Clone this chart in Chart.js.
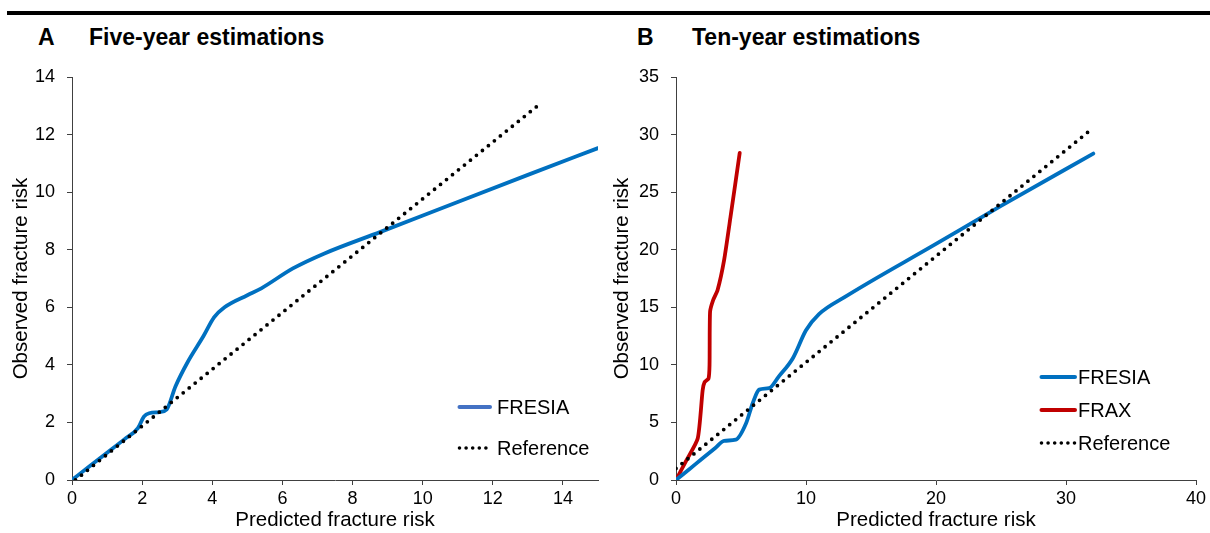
<!DOCTYPE html>
<html>
<head>
<meta charset="utf-8">
<script src="https://cdn.jsdelivr.net/npm/chart.js@4.4.1/dist/chart.umd.min.js"></script>
<style>
  html, body { margin: 0; padding: 0; background: #fff; }
  body { width: 1210px; height: 533px; position: relative; overflow: hidden;
         font-family: "Liberation Sans", Arial, sans-serif; }
  .rule { position: absolute; left: 7px; top: 11px; width: 1203px; height: 4px; background: #000; }
  .panel { position: absolute; top: 23px; font-weight: bold; font-size: 23px; line-height: 28px; color: #000; }
  .wrap { position: absolute; top: 0; height: 533px; }
</style>
</head>
<body>
<div class="rule"></div>
<div class="panel" style="left:38px">A</div>
<div class="panel" style="left:89px">Five-year estimations</div>
<div class="panel" style="left:637px">B</div>
<div class="panel" style="left:692px">Ten-year estimations</div>
<div class="wrap" style="left:0;width:610px"><canvas id="chartA"></canvas></div>
<div class="wrap" style="left:603px;width:607px"><canvas id="chartB"></canvas></div>
<script>
// Five-year calibration curve
const fiveYearPredicted = [0, 0.5, 1.0, 1.5, 1.88, 2.05, 2.2, 2.5, 2.7, 2.95, 3.3, 3.75, 4.05, 4.35, 5.0, 5.4, 6.3, 7.2, 8.8, 11.0, 13.0, 15.0];
const fiveYearObserved  = [0, 0.48, 0.95, 1.42, 1.8, 2.2, 2.32, 2.36, 2.45, 3.25, 4.1, 5.0, 5.65, 6.0, 6.42, 6.66, 7.35, 7.87, 8.62, 9.66, 10.6, 11.53];
const fiveYearRefPredicted = [0.1, 13.4];
const fiveYearRefObserved  = [0, 13.12];

// Ten-year calibration curves
const tenYearFresiaPredicted = [0, 1.0, 2.0, 3.0, 3.7, 4.6, 5.4, 5.9, 6.4, 7.15, 7.9, 9.0, 10.0, 11.0, 13.0, 20.0, 25.0, 32.1];
const tenYearFresiaObserved  = [0, 0.92, 1.84, 2.76, 3.4, 3.5, 4.95, 6.67, 7.85, 7.97, 8.98, 10.6, 13.0, 14.4, 15.9, 20.5, 23.8, 28.35];
const tenYearFraxPredicted = [0, 0.8, 1.67, 2.05, 2.2, 2.5, 2.58, 2.62, 2.85, 3.2, 3.7, 4.2, 4.9];
const tenYearFraxObserved  = [0, 1.7, 3.6, 7.8, 8.5, 8.8, 10.0, 14.6, 15.6, 16.5, 19.1, 22.9, 28.4];
const tenYearRefPredicted = [0, 32];
const tenYearRefObserved  = [1.0, 30.5];

// Tick labels
const fiveYearXTicks = [0, 2, 4, 6, 8, 10, 12, 14];
const fiveYearYTicks = [0, 2, 4, 6, 8, 10, 12, 14];
const tenYearXTicks = [0, 10, 20, 30, 40];
const tenYearYTicks = [0, 5, 10, 15, 20, 25, 30, 35];

const FONT = '"Liberation Sans", Arial, sans-serif';
const AXIS_COLOR = '#404040';

function pairs(xs, ys) { return xs.map((x, i) => ({ x: x, y: ys[i] })); }

// Legend drawn inside the plot area, one row per dataset
const insideLegend = {
  id: 'insideLegend',
  afterDraw(chart, args, opts) {
    const ctx = chart.ctx;
    ctx.save();
    chart.data.datasets.forEach((ds, i) => {
      const y = opts.rows[i];
      ctx.beginPath();
      ctx.strokeStyle = ds.legendColor || ds.borderColor;
      ctx.lineCap = 'round';
      if (ds.borderDash) {
        ctx.lineWidth = 3.6;
        ctx.setLineDash([0, 6.6]);
      } else {
        ctx.lineWidth = 4;
        ctx.setLineDash([]);
      }
      ctx.moveTo(opts.x0 + 1.5, y);
      ctx.lineTo(opts.x1, y);
      ctx.stroke();
      ctx.setLineDash([]);
      ctx.fillStyle = '#000';
      ctx.font = '20px ' + FONT;
      ctx.textBaseline = 'middle';
      ctx.textAlign = 'left';
      ctx.fillText(ds.label, opts.textX, y + 1);
    });
    ctx.restore();
  }
};

function axis(ticks, min, max, title, titlePad, fixedSize, isY, tickPad) {
  return {
    type: 'linear',
    min: min, max: max,
    afterBuildTicks: (s) => { s.ticks = ticks.map(v => ({ value: v })); },
    afterFit: (s) => { if (isY) s.width = fixedSize; else s.height = fixedSize; },
    grid: { drawOnChartArea: false, drawTicks: true, tickLength: 5, color: AXIS_COLOR, lineWidth: 1 },
    border: { display: true, color: AXIS_COLOR, width: 1 },
    ticks: { color: '#000', font: { family: FONT, size: 18 }, padding: tickPad },
    title: { display: true, text: title, color: '#000', font: { family: FONT, size: 20.5 }, padding: titlePad }
  };
}

function baseOptions(xAxis, yAxis, pad, legendOpts) {
  return {
    responsive: false,
    animation: false,
    events: [],
    layout: { padding: pad },
    plugins: { legend: { display: false }, tooltip: { enabled: false }, insideLegend: legendOpts },
    scales: { x: xAxis, y: yAxis },
    elements: { point: { radius: 0 } }
  };
}

function sizeCanvas(id, w, h) {
  const c = document.getElementById(id);
  c.width = w; c.height = h;
  c.style.width = w + 'px'; c.style.height = h + 'px';
  return c;
}

const refStyle = { borderColor: '#000', borderWidth: 3.8, borderDash: [0, 7.7], borderCapStyle: 'round', fill: false, showLine: true, tension: 0, order: 0 };

new Chart(sizeCanvas('chartA', 610, 533), {
  type: 'scatter',
  data: {
    datasets: [
      { label: 'FRESIA', data: pairs(fiveYearPredicted, fiveYearObserved), borderColor: '#0070C0', legendColor: '#4472C4',
        borderWidth: 3.8, showLine: true, fill: false, cubicInterpolationMode: 'monotone', borderCapStyle: 'round', order: 1 },
      Object.assign({ label: 'Reference', data: pairs(fiveYearRefPredicted, fiveYearRefObserved) }, refStyle)
    ]
  },
  options: baseOptions(
    axis(fiveYearXTicks, 0, 15, 'Predicted fracture risk', { top: 0, bottom: 0 }, 53, false, 3),
    axis(fiveYearYTicks, 0, 14, 'Observed fracture risk', { top: 9, bottom: 0 }, 72, true, 12),
    { top: 77, right: 12, left: 0, bottom: 0 },
    { x0: 458, x1: 490, textX: 497, rows: [407, 448] }
  ),
  plugins: [insideLegend]
});

new Chart(sizeCanvas('chartB', 607, 533), {
  type: 'scatter',
  data: {
    datasets: [
      { label: 'FRESIA', data: pairs(tenYearFresiaPredicted, tenYearFresiaObserved), borderColor: '#0070C0',
        borderWidth: 3.8, showLine: true, fill: false, cubicInterpolationMode: 'monotone', borderCapStyle: 'round', order: 1 },
      { label: 'FRAX', data: pairs(tenYearFraxPredicted, tenYearFraxObserved), borderColor: '#C00000',
        borderWidth: 3.8, showLine: true, fill: false, tension: 0.2, borderCapStyle: 'round', order: 1 },
      Object.assign({ label: 'Reference', data: pairs(tenYearRefPredicted, tenYearRefObserved) }, refStyle)
    ]
  },
  options: baseOptions(
    axis(tenYearXTicks, 0, 40, 'Predicted fracture risk', { top: 0, bottom: 0 }, 53, false, 3),
    axis(tenYearYTicks, 0, 35, 'Observed fracture risk', { top: 7, bottom: 0 }, 73, true, 12),
    { top: 77, right: 14, left: 0, bottom: 0 },
    { x0: 437, x1: 472, textX: 475, rows: [377, 410, 443] }
  ),
  plugins: [insideLegend]
});
</script>
</body>
</html>
